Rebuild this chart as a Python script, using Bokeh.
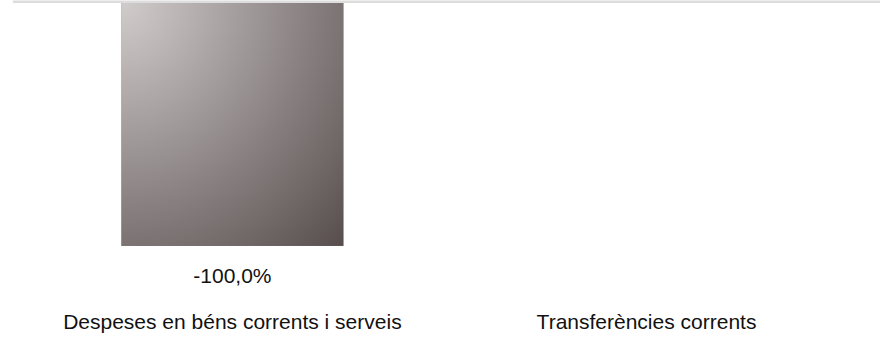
import numpy as np
from bokeh.plotting import figure
from bokeh.models import ColumnDataSource, LabelSet, FixedTicker, Span, Range1d
from bokeh.core.properties import value
from bokeh.embed import file_html
from bokeh.resources import INLINE

# ---- data ----
categories = ["Despeses en béns corrents i serveis", "Transferències corrents"]
values = [-100.0, None]          # second category has no value
positions = [0.5, 1.5]

BAR_W = 0.536
FONT = "Liberation Sans"

p = figure(width=880, height=335, output_backend="svg", toolbar_location=None,
           x_range=Range1d(-0.031, 2.065), y_range=Range1d(-118.65, 0.4),
           min_border_left=12, min_border_right=0, min_border_top=0,
           min_border_bottom=35)
p.outline_line_color = None
p.grid.visible = False
p.yaxis.visible = False
p.background_fill_color = "white"
p.border_fill_color = "white"

vals = [np.nan if v is None else v for v in values]
xs = [x for x, v in zip(positions, vals) if not np.isnan(v)]
tops = [v for v in vals if not np.isnan(v)]
src = ColumnDataSource(dict(x=xs, top=tops,
                            lbl=[f"{v:.1f}%".replace(".", ",") for v in tops]))

p.vbar(x="x", top="top", bottom=0, width=BAR_W, source=src,
       fill_color="#948a8a", line_color=None)

# gradient fill for each drawn bar (radial from top-left corner)
H, W = 252, 222
rows = np.arange(H)[:, None]
cols = np.arange(W)[None, :]
vfrac = 1 - rows / (H - 1)
ufrac = cols / (W - 1)
t = np.sqrt(ufrac ** 2 + vfrac ** 2) / np.sqrt(2)
c0 = np.array([210, 205, 205])
c1 = np.array([88, 78, 78])
img = np.empty((H, W), dtype=np.uint32)
view = img.view(dtype=np.uint8).reshape((H, W, 4))
for k in range(3):
    view[:, :, k] = (c0[k] + (c1[k] - c0[k]) * t).astype(np.uint8)
view[:, :, 3] = 255
for xc, v in zip(xs, tops):
    p.image_rgba(image=[img], x=xc - BAR_W / 2, y=min(v, 0), dw=BAR_W, dh=abs(v))

p.add_layout(Span(location=0, dimension="width", line_color="#dddddd", line_width=3))

labels = LabelSet(x="x", y="top", text="lbl", source=src, text_align="center",
                  text_baseline="alphabetic", y_offset=-37,
                  text_font=value(FONT), text_font_size=value("21px"),
                  text_color=value("#111111"))
p.add_layout(labels)

ax = p.xaxis[0]
ax.ticker = FixedTicker(ticks=positions)
ax.major_label_overrides = {pos: c for pos, c in zip(positions, categories)}
ax.axis_line_color = None
ax.major_tick_line_color = None
ax.minor_tick_line_color = None
ax.major_label_standoff = 12
ax.major_label_text_font = FONT
ax.major_label_text_font_size = "21px"
ax.major_label_text_color = "#111111"

open("out.html", "w").write(file_html(p, INLINE))
